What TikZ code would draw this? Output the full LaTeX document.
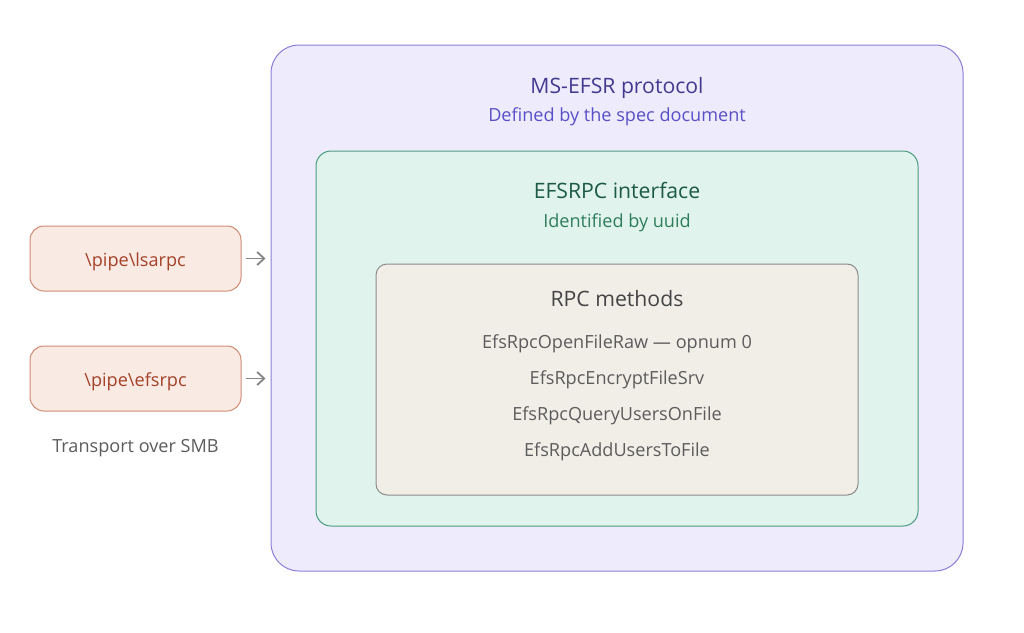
\documentclass[tikz,border=0pt]{standalone}
\usepackage{fontspec}
\setmainfont{Open Sans}
\usetikzlibrary{arrows.meta}
\definecolor{outerfill}{HTML}{EDEBFC}
\definecolor{outerdraw}{HTML}{8A80D6}
\definecolor{midfill}{HTML}{E0F3EC}
\definecolor{middraw}{HTML}{4A9C7E}
\definecolor{innfill}{HTML}{F1EEE8}
\definecolor{inndraw}{HTML}{8C8C8C}
\definecolor{pipefill}{HTML}{F9EAE3}
\definecolor{pipedraw}{HTML}{D08B74}
\definecolor{pipetext}{HTML}{A4412A}
\definecolor{t1}{HTML}{433A90}
\definecolor{t2}{HTML}{5A4FC6}
\definecolor{g1}{HTML}{1D5A45}
\definecolor{g2}{HTML}{2E7D5C}
\definecolor{darkt}{HTML}{444444}
\definecolor{midt}{HTML}{5C5C5C}
\definecolor{arrc}{HTML}{858585}
\tikzset{
  box/.style={draw, line width=1pt, inner sep=0pt},
  title/.style={font=\fontsize{21.2}{25}\selectfont, inner sep=0pt, anchor=base},
  sub/.style={font=\fontsize{18.1}{22}\selectfont, inner sep=0pt, anchor=base},
  pipebox/.style={box, rounded corners=14pt, fill=pipefill, draw=pipedraw, minimum width=211pt, minimum height=65pt},
  arr/.style={draw=arrc, line width=1.8pt, -{Straight Barb[length=7pt,width=13pt,line width=1.8pt]}, shorten <=4pt, shorten >=5pt},
}
\begin{document}
\begin{tikzpicture}[x=1pt,y=-1pt]
\useasboundingbox[fill=white] (0,0) rectangle (1024,632);
\node[box, rounded corners=28pt, fill=outerfill, draw=outerdraw, minimum width=692pt, minimum height=526pt] (outer) at (617,308) {};
\node[title, text=t1] (otitle) at (617,93) {MS-EFSR protocol};
\node[sub, text=t2] (osub) at (617,121.7) {Defined by the spec document};
\node[box, rounded corners=15pt, fill=midfill, draw=middraw, minimum width=602pt, minimum height=375pt] (mid) at (617,338.5) {};
\node[title, text=g1] (mtitle) at (617,198) {EFSRPC interface};
\node[sub, text=g2] (msub) at (617,227) {Identified by uuid};
\node[box, rounded corners=11pt, fill=innfill, draw=inndraw, minimum width=482pt, minimum height=231pt] (inn) at (617,379.5) {};
\node[title, text=darkt] (ititle) at (617,306.7) {RPC methods};
\node[sub, text=midt] (m1) at (617,348.3) {EfsRpcOpenFileRaw — opnum 0};
\node[sub, text=midt] (m2) at (617,384.3) {EfsRpcEncryptFileSrv};
\node[sub, text=midt] (m3) at (617,420) {EfsRpcQueryUsersOnFile};
\node[sub, text=midt] (m4) at (617,456) {EfsRpcAddUsersToFile};
\node[pipebox] (ls) at (135.5,258.5) {};
\node[sub, text=pipetext] (lst) at (135.5,266.5) {\textbackslash pipe\textbackslash lsarpc};
\node[pipebox] (efs) at (135.5,378.5) {};
\node[sub, text=pipetext] (efst) at (135.5,386.5) {\textbackslash pipe\textbackslash efsrpc};
\node[sub, text=midt] (smb) at (135.5,452.3) {Transport over SMB};
\draw[arr] (ls.east) -- (ls.east -| outer.west);
\draw[arr] (efs.east) -- (efs.east -| outer.west);
\end{tikzpicture}
\end{document}
